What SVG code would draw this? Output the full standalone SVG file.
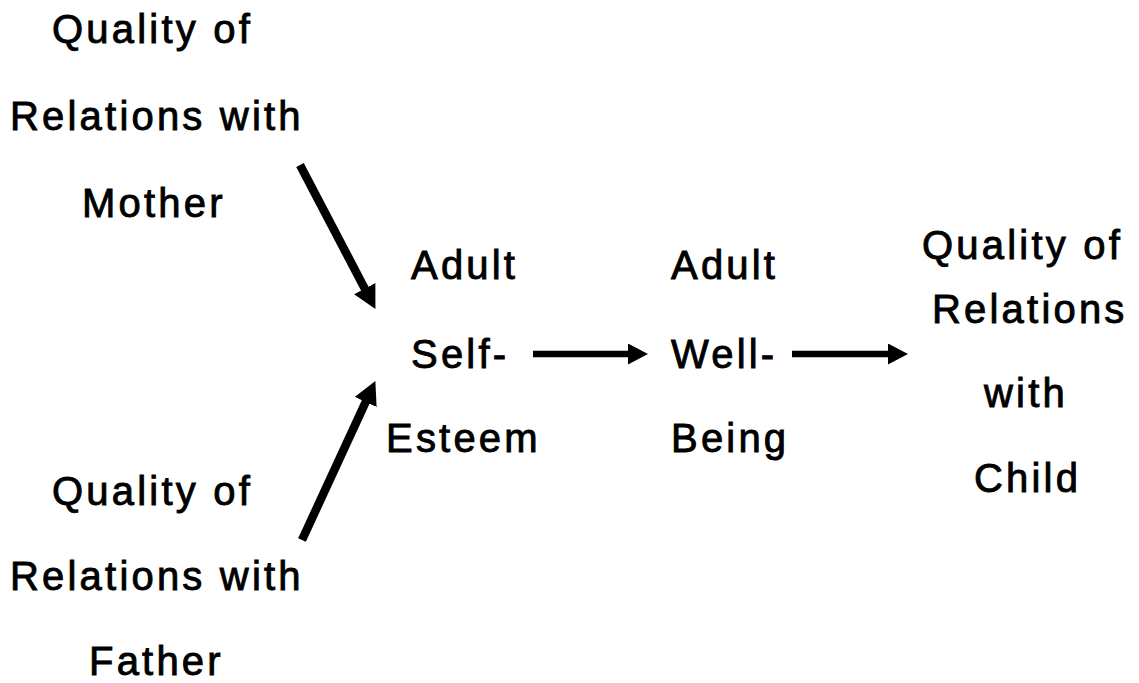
<svg xmlns="http://www.w3.org/2000/svg" width="1139" height="683" viewBox="0 0 1139 683">
  <style>
    .t { font-family: "Liberation Sans", Arial, sans-serif; font-size: 40px; letter-spacing: 3.2px; fill: #000; stroke: #000; stroke-width: 0.9px; }
    .c { stroke: #000; fill: none; }
    .d { stroke-width: 8.5; }
    .h { stroke-width: 6.5; }
  </style>
  <defs>
    <marker id="headBig" markerUnits="userSpaceOnUse" markerWidth="26" markerHeight="26" refX="4" refY="12" orient="auto">
      <path d="M0,0 L23,12 L0,24 z" fill="#000"/>
    </marker>
    <marker id="headSmall" markerUnits="userSpaceOnUse" markerWidth="22" markerHeight="22" refX="2" refY="10.5" orient="auto">
      <path d="M0,0 L20,10.5 L0,21 z" fill="#000"/>
    </marker>
  </defs>
  <rect width="1139" height="683" fill="#fff"/>

  <g id="mother">
    <text class="t" x="52" y="43">Quality of</text>
    <text class="t" x="10" y="130">Relations with</text>
    <text class="t" x="82" y="217">Mother</text>
  </g>
  <g id="father">
    <text class="t" x="52" y="505">Quality of</text>
    <text class="t" x="10" y="590">Relations with</text>
    <text class="t" x="89" y="675">Father</text>
  </g>
  <g id="self-esteem">
    <text class="t" x="411" y="279">Adult</text>
    <text class="t" x="411" y="368">Self-</text>
    <text class="t" x="386" y="452">Esteem</text>
  </g>
  <g id="well-being">
    <text class="t" x="671" y="279">Adult</text>
    <text class="t" x="671" y="368">Well-</text>
    <text class="t" x="671" y="452">Being</text>
  </g>
  <g id="child">
    <text class="t" x="922" y="259">Quality of</text>
    <text class="t" x="932" y="323">Relations</text>
    <text class="t" x="984" y="407">with</text>
    <text class="t" x="974" y="492">Child</text>
  </g>

  <g id="connectors">
    <line class="c d" x1="300" y1="165" x2="366.6" y2="292.1" marker-end="url(#headBig)"/>
    <line class="c d" x1="302" y1="540" x2="367.4" y2="398.3" marker-end="url(#headBig)"/>
    <line class="c h" x1="533" y1="354" x2="630" y2="354" marker-end="url(#headSmall)"/>
    <line class="c h" x1="792" y1="354" x2="890" y2="354" marker-end="url(#headSmall)"/>
  </g>
</svg>
